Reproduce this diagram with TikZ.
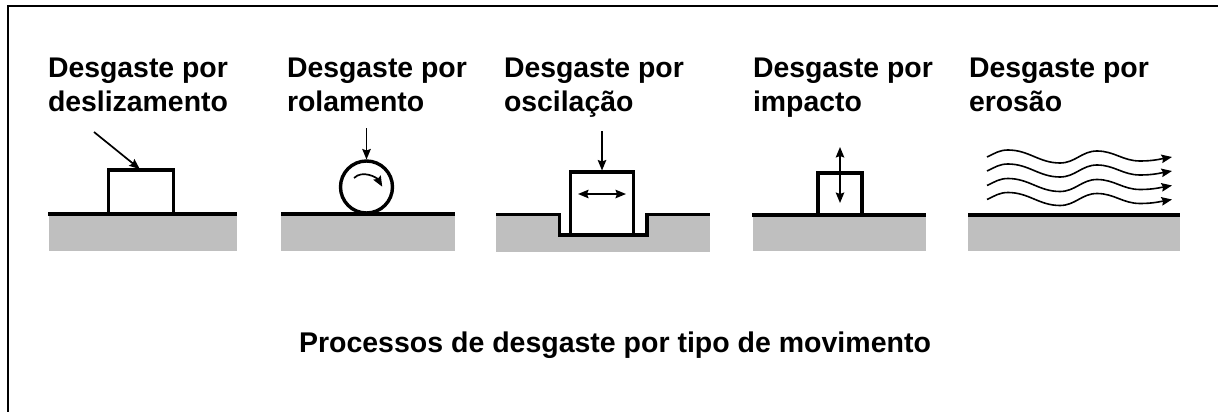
\documentclass[tikz,border=0pt]{standalone}
\usepackage{fontspec}
\setmainfont{Liberation Sans}
\usetikzlibrary{arrows.meta}
\definecolor{groundgray}{HTML}{BFBFBF}

\begin{document}
\begin{tikzpicture}[x=1pt,y=-1pt,>={Stealth[length=10.5,width=8.5,inset=1.5]}]
    \tikzstyle{every node}=[fill=none,rectangle,draw,line width=3.4,inner sep=0,outer sep=0]
    \tikzstyle{note}=[draw=none,align=left,anchor=north west,font=\fontsize{28.4}{33.6}\selectfont\bfseries]
    \tikzstyle{caption}=[draw=none,font=\fontsize{28.5}{33.6}\selectfont\bfseries]
    \tikzstyle{ground}=[fill=groundgray,draw=none]
    \tikzstyle{surface}=[line width=3.6]
    \tikzstyle{force}=[line width=1.7,shorten >=1.5]
    \tikzstyle{wave}=[line width=1.6,->]
    \useasboundingbox (0,0) rectangle (1218,412);
    {
        % frame
        \draw[line width=2] (8,412) -- (8,6) -- (1218,6);

        \node[note] (t1) at (48,58) {Desgaste por\\deslizamento};
        \node[note] (t2) at (287,58) {Desgaste por\\rolamento};
        \node[note] (t3) at (504,58) {Desgaste por\\oscilação};
        \node[note] (t4) at (753,58) {Desgaste por\\impacto};
        \node[note] (t5) at (969,58) {Desgaste por\\erosão};
        \node[caption] (title) at (615,345) {Processos de desgaste por tipo de movimento};

        % sliding
        \fill[ground] (49,214) rectangle (237,251);
        \draw[surface] (48,214) -- (237,214);
        \node[minimum width=65,minimum height=44] (box1) at (141,192) {};
        \coordinate (f1) at (94,132);
        \draw[force,->] (f1) -- (box1.north);

        % rolling
        \fill[ground] (281,214) rectangle (455,251);
        \draw[surface] (281,214) -- (455,214);
        \node[circle,minimum size=52] (ball) at (366.5,187) {};
        \coordinate (f2) at (366.5,128);
        \draw[force,->] (f2) -- (ball.north);
        \coordinate (r1) at (354,178);
        \coordinate (r2) at (383,188);
        \draw[force,->] (r1) to[out=45,in=120] (r2);

        % oscillating
        \fill[ground] (496,214) rectangle (710,252);
        \fill[white] (559,214) rectangle (647,235);
        \draw[surface] (496,214.5) -- (559.5,214.5) -- (559.5,235) -- (647,235) -- (647,214.5) -- (710,214.5);
        \node[minimum width=63,minimum height=63,fill=white] (box3) at (602,203.5) {};
        \coordinate (f3) at (602,131);
        \draw[force,->] (f3) -- (box3.north);
        \coordinate (o1) at (578,194);
        \coordinate (o2) at (626,194);
        \draw[line width=1.7,<->] (o1) -- (o2);

        % impact
        \fill[ground] (753,215) rectangle (926,251);
        \draw[surface] (752,215) -- (926,215);
        \node[minimum width=44,minimum height=42] (box4) at (840,194) {};
        \coordinate (i1) at (840,147);
        \coordinate (i2) at (840,203);
        \draw[line width=1.7,<->] (i1) -- (i2);

        % erosion
        \fill[ground] (968,215) rectangle (1180,251);
        \draw[surface] (968,215) -- (1180,215);
        \coordinate (w1) at (987,157);
        \coordinate (w2) at (987,171);
        \coordinate (w3) at (987,185.5);
        \coordinate (w4) at (987,199.5);
        \draw[wave] (w1) to[out=25,in=180] ++(21,-7) to[out=0,in=180] ++(52,13) to[out=0,in=180] ++(37,-12) to[out=0,in=180] ++(43,10) to[out=0,in=190] ++(32,-4);
        \draw[wave] (w2) to[out=25,in=180] ++(21,-7) to[out=0,in=180] ++(52,13) to[out=0,in=180] ++(37,-12) to[out=0,in=180] ++(43,10) to[out=0,in=190] ++(32,-4);
        \draw[wave] (w3) to[out=25,in=180] ++(21,-7) to[out=0,in=180] ++(52,13) to[out=0,in=180] ++(37,-12) to[out=0,in=180] ++(43,10) to[out=0,in=190] ++(32,-4);
        \draw[wave] (w4) to[out=25,in=180] ++(21,-7) to[out=0,in=180] ++(52,13) to[out=0,in=180] ++(37,-12) to[out=0,in=180] ++(43,10) to[out=0,in=190] ++(32,-4);
    }
\end{tikzpicture}
\end{document}
